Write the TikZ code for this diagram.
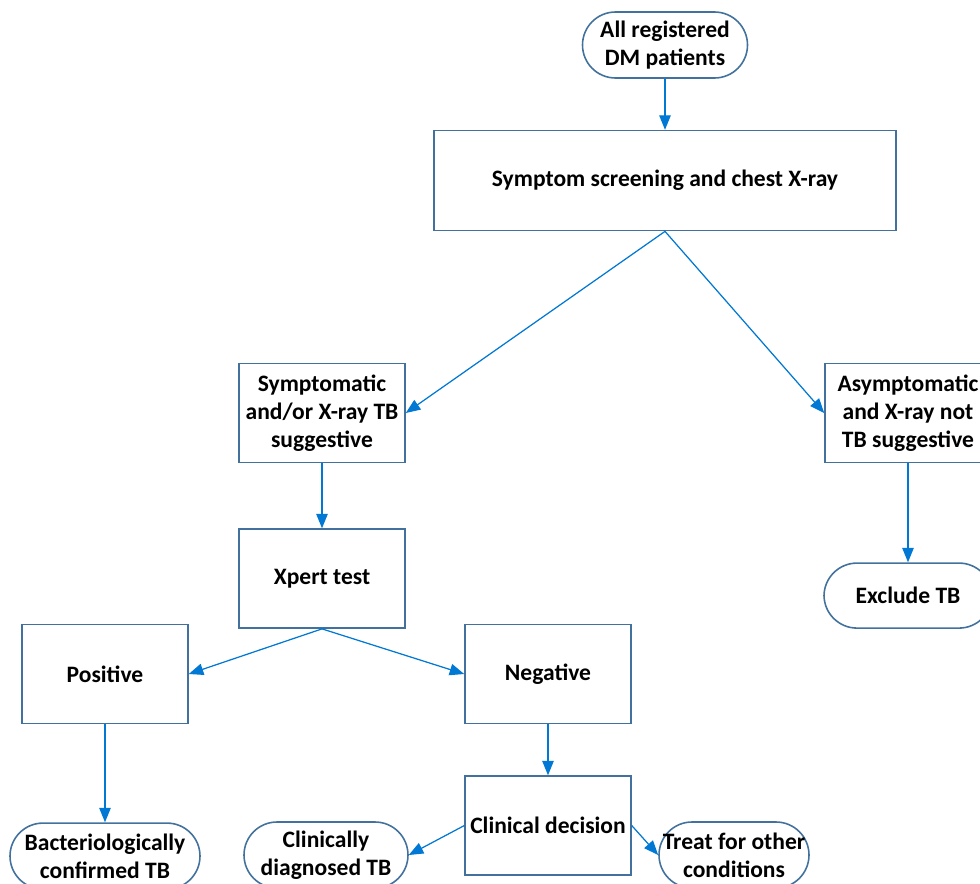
\documentclass[tikz,border=0pt]{standalone}
\usepackage{fontspec}
\setmainfont{Carlito}
\usetikzlibrary{arrows.meta,positioning}
\definecolor{boxblue}{RGB}{65,113,156}
\definecolor{arrowblue}{RGB}{0,120,212}
\tikzset{
    flowterm/.style={rectangle,draw=boxblue,line width=0.9pt,rounded corners=0.66cm,align=center,minimum width=3.3cm,minimum height=1.32cm,inner sep=1pt},
    flowbox/.style={rectangle,draw=boxblue,line width=0.9pt,align=center,minimum width=3.32cm,minimum height=1.98cm,inner sep=1pt},
    flowline/.style={-{Triangle[length=2.9mm,width=2.3mm]},draw=arrowblue,fill=arrowblue,line width=0.7pt}
}
\begin{document}
\begin{tikzpicture}[font=\bfseries\fontsize{13.4}{16}\selectfont]
        \useasboundingbox (0,0) rectangle (19.6,-17.66);
        \node[flowterm] (start) at (13.3,-0.9) {All registered\\DM patients};
        \node[flowbox,minimum width=9.24cm,minimum height=2cm,below=1.02cm of start] (screen) {Symptom screening and chest X-ray};
        \node[flowbox] (symp) at (6.44,-8.26) {Symptomatic\\and/or X-ray TB\\suggestive};
        \node[flowbox] (asym) at (18.16,-8.26) {Asymptomatic\\and X-ray not\\TB suggestive};
        \node[flowbox,below=1.3cm of symp] (xpert) {Xpert test};
        \node[flowterm,minimum width=3.36cm,minimum height=1.3cm,below=1.98cm of asym] (exclude) {Exclude TB};
        \node[flowbox] (pos) at (2.1,-13.48) {Positive};
        \node[flowbox] (neg) at (10.96,-13.48) {Negative};
        \node[flowbox,below=1.02cm of neg] (clin) {Clinical decision};
        \node[flowterm,minimum width=3.8cm,below=1.96cm of pos] (bact) {Bacteriologically\\confirmed TB};
        \node[flowterm,minimum width=3.28cm] (cdiag) at (6.52,-17.1) {Clinically\\diagnosed TB};
        \node[flowterm,minimum width=3.0cm] (treat) at (14.68,-17.1) {Treat for other\\conditions};
        \draw[flowline] (start) -- (screen);
        \draw[flowline] (screen.south) -- (symp.east);
        \draw[flowline] (screen.south) -- (asym.west);
        \draw[flowline] (symp) -- (xpert);
        \draw[flowline] (asym) -- (exclude);
        \draw[flowline] (xpert.south) -- (pos.east);
        \draw[flowline] (xpert.south) -- (neg.west);
        \draw[flowline] (pos) -- (bact);
        \draw[flowline] (neg) -- (clin);
        \draw[flowline] (clin.west) -- (cdiag.east);
        \draw[flowline] (clin.east) -- (treat.west);
    \end{tikzpicture}
\end{document}
